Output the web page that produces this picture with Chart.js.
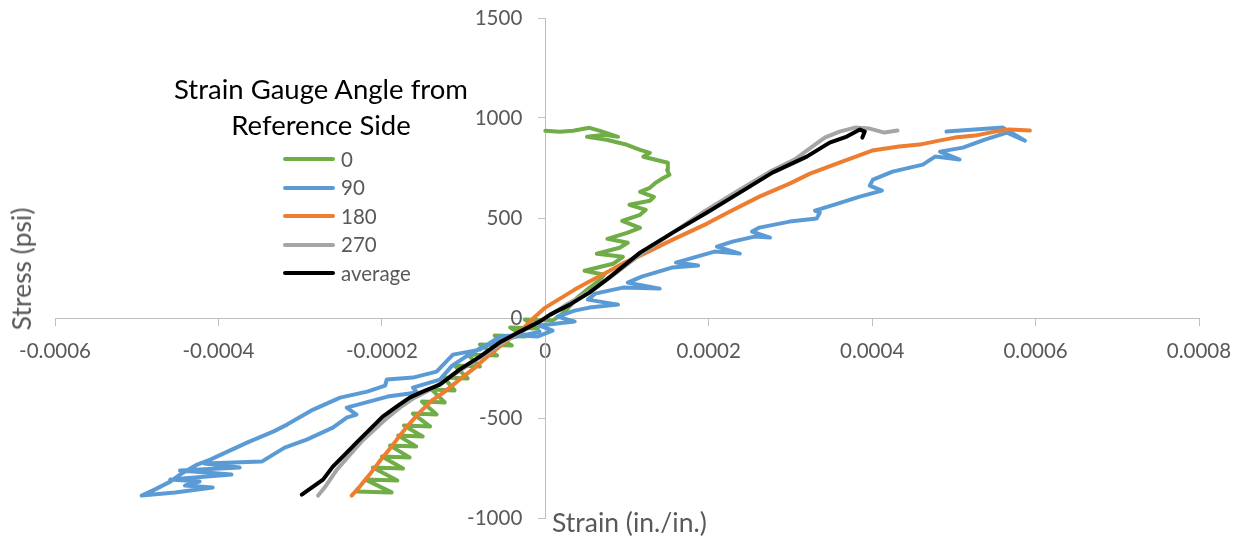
<!DOCTYPE html>
<html>
<head>
<meta charset="utf-8">
<title>Stress vs strain</title>
<script src="https://cdn.jsdelivr.net/npm/chart.js@4.4.1/dist/chart.umd.min.js"></script>
<style>
  html, body { margin: 0; padding: 0; background: #fff; }
  #wrap { position: relative; width: 1246px; height: 541px; overflow: hidden; font-family: Lato, "Open Sans", sans-serif; }
  #chart { position: absolute; left: 0; top: 0; }
  .txt { position: absolute; white-space: nowrap; color: #595959; }
  #legTitle { left: 121px; top: 71px; width: 400px; text-align: center; font-size: 27.5px; line-height: 36px; color: #000; }
  .swatch { position: absolute; left: 283px; width: 52px; height: 4px; border-radius: 2px; }
  .item { left: 341px; font-size: 20.5px; line-height: 24px; }
  #xTitle { left: 552px; top: 506px; font-size: 26.5px; line-height: 32px; }
  #yTitle { left: 21px; top: 269px; font-size: 26.5px; line-height: 32px; transform: translate(-50%, -50%) rotate(-90deg); }
</style>
</head>
<body>
<div id="wrap">
  <canvas id="chart" width="1246" height="541"></canvas>
  <div class="txt" id="legTitle">Strain Gauge Angle from<br>Reference Side</div>
  <div id="legend"></div>
  <div class="txt" id="xTitle">Strain (in./in.)</div>
  <div class="txt" id="yTitle">Stress (psi)</div>
</div>
<script>
// tick labels / axis ranges
const strainTicks = [-0.0006, -0.0004, -0.0002, 0, 0.0002, 0.0004, 0.0006, 0.0008];
const stressTicks = [-1000, -500, 0, 500, 1000, 1500];

const seriesNames = ['0', '90', '180', '270', 'average'];
const seriesColors = ['#70ad47', '#5b9bd5', '#ed7d31', '#a5a5a5', '#000000'];

// 0 deg gauge
const strain0 = [-231e-6, -188e-6, -220e-6, -181e-6, -211e-6, -174e-6, -200e-6, -166e-6, -190e-6, -158e-6,
  -180e-6, -150e-6, -173e-6, -141e-6, -162e-6, -133e-6, -151e-6, -123e-6, -139e-6, -111e-6,
  -124e-6, -95e-6, -111e-6, -80e-6, -95e-6, -59e-6, -80e-6, -41e-6, -62e-6, -25e-6,
  -43e-6, -9e-6, -25e-6, 9e-6,
  18e-6, 26e-6, 39e-6, 54e-6, 67e-6, 72e-6, 48e-6, 83e-6, 95e-6, 63e-6, 91e-6, 101e-6, 76e-6, 100e-6,
  116e-6, 94e-6, 116e-6, 123e-6, 103e-6, 128e-6, 133e-6, 116e-6, 128e-6, 135e-6, 145e-6, 152e-6,
  149e-6, 150e-6, 140e-6, 130e-6, 120e-6, 128e-6, 116e-6, 100e-6, 75e-6, 51e-6, 73e-6, 89e-6,
  67e-6, 54e-6, 34e-6, 18e-6, 0];
const stress0 = [-868, -872, -808, -812, -748, -752, -693, -697, -638, -642,
  -588, -592, -538, -542, -478, -482, -418, -422, -358, -362,
  -298, -302, -238, -242, -183, -187, -133, -137, -88, -92,
  -48, -52, -8, -12,
  11, 41, 101, 151, 191, 216, 236, 271, 306, 321, 351, 376, 396, 426,
  451, 486, 516, 541, 566, 586, 606, 631, 651, 676, 701, 716,
  741, 776, 786, 796, 806, 826, 841, 866, 891, 906, 916, 906,
  936, 951, 936, 931, 936];

// 90 deg gauge
const strain90 = [-7e-6, -23e-6, -56e-6, -80e-6, -113e-6, -133e-6, -162e-6, -194e-6, -196e-6, -218e-6,
  -251e-6, -284e-6, -316e-6, -333e-6, -365e-6, -410e-6, -426e-6, -447e-6, -459e-6, -478e-6, -494e-6,
  -453e-6, -407e-6,
  -441e-6, -423e-6, -459e-6, -384e-6, -447e-6, -374e-6, -417e-6, -347e-6,
  -319e-6, -292e-6, -260e-6, -243e-6, -231e-6, -243e-6, -193e-6, -157e-6, -162e-6, -129e-6,
  -114e-6, -99e-6, -76e-6, -50e-6, -31e-6, -10e-6, 9e-6,
  -7e-6, 36e-6, 15e-6, 36e-6, 54e-6, 89e-6, 52e-6, 61e-6, 95e-6, 140e-6, 101e-6, 118e-6,
  155e-6, 187e-6, 160e-6, 177e-6, 207e-6, 238e-6, 210e-6, 229e-6, 256e-6, 275e-6, 253e-6, 262e-6,
  299e-6, 332e-6, 336e-6, 330e-6, 354e-6, 385e-6, 412e-6, 397e-6, 401e-6, 425e-6, 462e-6, 477e-6,
  507e-6, 483e-6, 511e-6, 538e-6, 565e-6, 587e-6, 560e-6, 491e-6];
const stress90 = [-68, -83, -93, -158, -183, -268, -298, -308, -338, -368,
  -398, -458, -533, -568, -623, -708, -733, -783, -818, -858, -888,
  -873, -848,
  -838, -818, -808, -783, -763, -748, -728, -718,
  -648, -608, -548, -498, -483, -448, -393, -373, -348, -308,
  -238, -198, -143, -108, -88, -93, -63,
  -38, -18, 7, 37, 52, 67, 92, 122, 152, 147, 177, 207,
  252, 262, 277, 297, 332, 322, 357, 382, 407, 402, 432, 452,
  482, 497, 527, 537, 567, 607, 637, 662, 692, 732, 767, 807,
  792, 832, 852, 892, 927, 887, 952, 932];

// 180 deg gauge
const strain180 = [-237e-6, -227e-6, -215e-6, -203e-6, -190e-6, -178e-6, -166e-6, -154e-6, -139e-6, -123e-6,
  -105e-6, -86e-6, -68e-6, -50e-6, -31e-6, -15e-6, 0, 18e-6, 36e-6, 54e-6,
  75e-6, 97e-6, 116e-6, 136e-6, 156e-6, 177e-6, 198e-6, 226e-6, 262e-6, 299e-6,
  324e-6, 360e-6, 400e-6, 433e-6, 458e-6, 482e-6, 501e-6, 526e-6, 550e-6, 568e-6, 593e-6];
const stress180 = [-888, -843, -783, -718, -653, -588, -528, -473, -413, -368,
  -308, -248, -183, -123, -68, -3, 52, 97, 142, 182,
  227, 277, 312, 352, 392, 432, 472, 532, 607, 672,
  722, 777, 837, 857, 867, 887, 902, 912, 932, 942, 937];

// 270 deg gauge
const strain270 = [-278e-6, -270e-6, -255e-6, -239e-6, -225e-6, -209e-6, -193e-6, -178e-6, -160e-6, -141e-6,
  -123e-6, -99e-6, -74e-6, -50e-6, -25e-6, 0, 24e-6, 54e-6, 79e-6, 116e-6,
  156e-6, 196e-6, 238e-6, 275e-6, 305e-6, 330e-6, 342e-6, 360e-6, 379e-6, 397e-6, 415e-6, 431e-6];
const stress270 = [-888, -848, -758, -683, -618, -558, -498, -448, -398, -358,
  -313, -248, -183, -118, -58, 0, 62, 132, 202, 317,
  427, 537, 642, 732, 792, 867, 902, 932, 952, 947, 927, 937];

// average of the four gauges
const strainAvg = [-298e-6, -272e-6, -260e-6, -243e-6, -231e-6, -215e-6, -199e-6, -182e-6, -166e-6, -150e-6,
  -129e-6, -105e-6, -80e-6, -56e-6, -31e-6, -7e-6, 6e-6, 30e-6, 54e-6, 75e-6,
  116e-6, 156e-6, 198e-6, 238e-6, 278e-6, 320e-6, 348e-6, 369e-6, 385e-6, 391e-6, 388e-6];
const stressAvg = [-883, -808, -743, -673, -623, -558, -493, -443, -398, -368,
  -333, -258, -193, -123, -68, -18, 17, 67, 127, 192,
  327, 427, 527, 627, 727, 807, 877, 907, 942, 932, 902];

const strainSets = [strain0, strain90, strain180, strain270, strainAvg];
const stressSets = [stress0, stress90, stress180, stress270, stressAvg];

const pts = (xs, ys) => xs.map((x, i) => ({ x: x, y: ys[i] }));

const datasets = seriesNames.map((name, i) => ({
  label: name,
  data: pts(strainSets[i], stressSets[i]),
  borderColor: seriesColors[i],
  backgroundColor: seriesColors[i],
  borderWidth: 4,
  borderCapStyle: 'round',
  borderJoinStyle: 'round',
  showLine: true,
  pointRadius: 0,
  tension: 0,
  fill: false,
  order: seriesNames.length - i   // later series on top, as in the original
}));

// html legend
const legend = document.getElementById('legend');
const itemY = [159, 187.5, 216, 244.5, 273];
seriesNames.forEach((name, i) => {
  const sw = document.createElement('div');
  sw.className = 'swatch';
  sw.style.top = (itemY[i] - 2) + 'px';
  sw.style.background = seriesColors[i];
  legend.appendChild(sw);
  const t = document.createElement('div');
  t.className = 'txt item';
  t.style.top = (itemY[i] - 12.5) + 'px';
  t.textContent = name;
  legend.appendChild(t);
});

const tickFont = { family: 'Lato', size: 20.5 };
const axisGray = '#bfbfbf';
const tickLen = 7;

// y labels sit left of the zero-crossing axis (chart.js puts them flush on it)
const yLabels = {
  id: 'yLabels',
  afterDraw(chart) {
    const { ctx } = chart;
    const xs = chart.scales.x, ys = chart.scales.y;
    const x0 = xs.getPixelForValue(0) - tickLen - 16;
    ctx.save();
    ctx.font = tickFont.size + 'px ' + tickFont.family;
    ctx.fillStyle = '#595959';
    ctx.textAlign = 'right';
    ctx.textBaseline = 'middle';
    stressTicks.forEach(v => ctx.fillText(String(v), x0, ys.getPixelForValue(v)));
    ctx.restore();
  }
};

new Chart(document.getElementById('chart'), {
  type: 'scatter',
  data: { datasets },
  plugins: [yLabels],
  options: {
    responsive: false,
    animation: false,
    devicePixelRatio: 1,
    layout: { padding: { left: 55, right: 47, top: 18, bottom: 23 } },
    plugins: { legend: { display: false }, tooltip: { enabled: false } },
    scales: {
      x: {
        type: 'linear',
        position: { y: 0 },
        min: strainTicks[0],
        max: strainTicks[strainTicks.length - 1],
        afterBuildTicks: (s) => { s.ticks = strainTicks.map(v => ({ value: v })); },
        ticks: {
          color: '#595959', font: tickFont, padding: 14, maxRotation: 0, autoSkip: false,
          callback: (v) => Math.abs(v) < 1e-12 ? '0' : Number(v).toFixed(4)
        },
        grid: { drawOnChartArea: false, drawTicks: true, tickLength: tickLen, tickColor: axisGray, color: axisGray },
        border: { display: true, color: axisGray, width: 1 }
      },
      y: {
        type: 'linear',
        position: { x: 0 },
        min: stressTicks[0],
        max: stressTicks[stressTicks.length - 1],
        afterBuildTicks: (s) => { s.ticks = stressTicks.map(v => ({ value: v })); },
        ticks: { display: false },
        grid: { drawOnChartArea: false, drawTicks: true, tickLength: tickLen, tickColor: axisGray, color: axisGray },
        border: { display: true, color: axisGray, width: 1 }
      }
    }
  }
});
</script>
</body>
</html>
